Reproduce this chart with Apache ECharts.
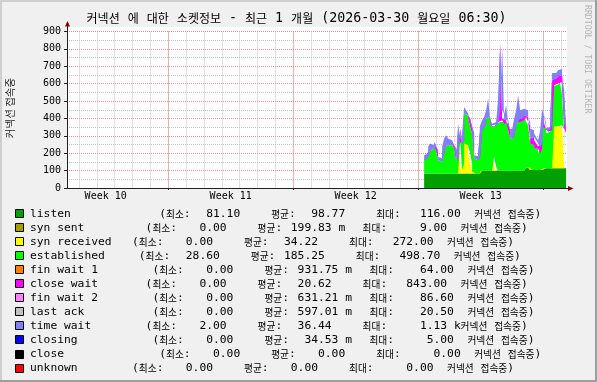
<!DOCTYPE html>
<html><head><meta charset="utf-8">
<script src="https://cdn.jsdelivr.net/npm/echarts@6/dist/echarts.min.js"></script>
<style>html,body{margin:0;padding:0;background:#F0F0F0}#c{width:597px;height:382px}</style>
</head><body><div id="c"></div>
<script>
// ---------------- data ----------------
const titleText = '커넥션 에 대한 소켓정보 - 최근 1 개월 (2026-03-30 월요일 06:30)';
const yAxisTitle = '커넥션 접속중';
const sideText = 'RRDTOOL / TOBI OETIKER';
const weekLabels = ['Week 10', 'Week 11', 'Week 12', 'Week 13'];
const yMin = 0, yMax = 900, yStep = 100;
// time axis: days from left edge of the 1-month window
const spanDays = 28;
const sampleStartDay = 20;      // first sample
const sampleStepDay = 0.112;    // sample spacing

const listen = [84,84,84,84,84,84,84,84,84,84,84,84,84,84,84,84,84,84,84,84,84,84,84,84,84,84,84,84,
  99,99,99,99,99,99,99,99,99,99,99,99,99,99,99,99,99,99,99,99,99,99,
  116,116,116,103,103,103,103,103,103,103,113,113,113,113,113,113,113,113,113,113,113];
const synReceived = [0,0,0,0,0,0,0,0,0,0,0,0,0,0,0,0,0,191,19,57,172,162,115,57,10,0,0,0,
  0,0,0,0,0,0,80,23,0,0,0,0,0,0,0,0,0,0,0,0,0,0,
  0,0,0,0,0,0,0,0,0,0,0,0,0,0,239,239,243,243,248,220,0];
const established = [80,96,124,134,143,153,130,76,67,115,153,162,172,162,162,143,67,67,153,134,172,172,201,210,220,86,76,96,
  233,252,271,300,310,262,172,239,271,281,290,281,271,271,233,185,195,262,281,290,281,290,
  292,264,245,153,143,124,124,96,124,248,229,201,210,220,233,239,241,245,248,191,201];
const closeWait = [0,0,0,0,0,0,0,0,0,0,0,0,0,0,0,0,0,0,0,0,0,0,0,0,0,0,0,0,
  0,0,0,0,0,0,0,0,0,67,430,19,19,23,0,0,0,0,0,15,19,15,
  10,29,19,29,48,48,29,38,29,67,29,19,10,38,38,38,38,42,38,38,29];
const timeWait = [25,19,29,38,19,29,32,19,19,38,48,57,29,29,29,19,19,29,19,38,38,29,29,29,19,19,23,19,
  29,38,38,48,105,29,19,19,10,67,13,48,38,82,29,57,57,38,67,128,48,52,
  48,38,29,57,38,38,38,38,76,38,38,10,19,57,38,32,32,34,38,29,29];

const legendNames = ['listen','syn sent','syn received','established','fin wait 1','close wait',
  'fin wait 2','last ack','time wait','closing','close','unknown'];
const legendMin = ['81.10','0.00','0.00','28.60','0.00','0.00','0.00','0.00','2.00','0.00','0.00','0.00'];
const legendAvg = ['98.77','199.83','34.22','185.25','931.75','20.62','631.21','597.01','36.44','34.53','0.00','0.00'];
const legendAvgUnit = ['','m','','','m','','m','m','','m','',''];
const legendMax = ['116.00','9.00','272.00','498.70','64.00','843.00','86.60','20.50','1.13','5.00','0.00','0.00'];
const legendMaxUnit = ['','','','','','','','','k','','',''];
const minLabel = '(최소:', avgLabel = '평균:', maxLabel = '최대:', tailLabel = '커넥션 접속중)';

// ---------------- style / layout ----------------
const colors = ['#00A000','#A0A000','#FFFF00','#00FF00','#FF8000','#FF00FF',
  '#FF80FF','#C0C0C0','#8080FF','#0000FF','#000000','#FF0000'];
const legendPad = [19,17,15,16,18,17,18,18,17,18,19,15];
const MONO = 'DejaVu Sans Mono';
const CJK = 'Noto Sans CJK KR';
const GL = 67, GR = 567, GT = 31.5, GB = 188;
const DAY_MS = 86400000;
const hourCount = spanDays * 24;
const hourCats = Array.from({length: hourCount + 1}, (_, i) => String(i));
const firstMidnight = 16, firstWeek = 136, weekLabelFirst = 52;

function richStr(str) {
  const parts = str.match(/[\uAC00-\uD7A3]+|[^\uAC00-\uD7A3]+/g) || [];
  return parts.map(p => (/[\uAC00-\uD7A3]/.test(p) ? '{k|' : '{m|') + p + '}').join('');
}
function richStyles(ms, ks, col) {
  return {
    m: {fontFamily: MONO, fontSize: ms, fill: col, color: col},
    k: {fontFamily: CJK, fontSize: ks, fill: col, color: col}
  };
}
function txt(x, y, text, opts) {
  opts = opts || {};
  const align = opts.align || 'left';
  const style = {
    text: opts.rich ? richStr(text) : text,
    align: align, textAlign: align,
    verticalAlign: 'middle', textVerticalAlign: 'middle',
    fill: opts.color || '#000'
  };
  if (opts.rich) style.rich = richStyles(opts.ms || 11.3, opts.ks || 9.7, opts.color || '#000');
  else style.font = (opts.size || 11.3) + 'px "' + (opts.family || MONO) + '"';
  const el = {type: 'text', x: x, y: y, style: style, z: 10};
  if (opts.rotation) el.rotation = opts.rotation;
  return el;
}

const graphics = [];
graphics.push({type: 'rect', shape: {x: 0, y: 0, width: 597, height: 382}, style: {fill: '#F0F0F0'}, z: -20});
graphics.push({type: 'rect', shape: {x: 0, y: 0, width: 597, height: 2}, style: {fill: '#CFCFCF'}, z: -19});
graphics.push({type: 'rect', shape: {x: 0, y: 0, width: 2, height: 382}, style: {fill: '#CFCFCF'}, z: -19});
graphics.push({type: 'rect', shape: {x: 0, y: 380, width: 597, height: 2}, style: {fill: '#9E9E9E'}, z: -19});
graphics.push({type: 'rect', shape: {x: 595, y: 0, width: 2, height: 382}, style: {fill: '#9E9E9E'}, z: -19});
graphics.push({type: 'rect', shape: {x: GL, y: 27, width: GR - GL, height: GB - 27}, style: {fill: '#FFFFFF'}, z: -18});
graphics.push({type: 'line', shape: {x1: GL + 0.5, y1: GT, x2: GL + 0.5, y2: 26}, style: {stroke: '#202020', lineWidth: 1}, z: 5});
graphics.push({type: 'polygon', shape: {points: [[GL - 2, 26.5], [GL + 3, 26.5], [GL + 0.5, 21]]}, style: {fill: '#7F0000'}, z: 5});
graphics.push({type: 'line', shape: {x1: GR, y1: GB + 0.5, x2: 568.5, y2: GB + 0.5}, style: {stroke: '#202020', lineWidth: 1}, z: 5});
graphics.push({type: 'polygon', shape: {points: [[568, GB - 2], [568, GB + 3], [573.5, GB + 0.5]]}, style: {fill: '#7F0000'}, z: 5});
graphics.push(txt(296.5, 18.5, titleText, {rich: true, ms: 13.3, ks: 12.0, align: 'center'}));
graphics.push(txt(10, 108, yAxisTitle, {family: CJK, size: 10.5, align: 'center', rotation: Math.PI / 2, color: '#222'}));
graphics.push(txt(587, 5, sideText, {size: 8.2, color: '#B4B4B4', rotation: -Math.PI / 2}));
const MW = 6.8;
legendNames.forEach((name, i) => {
  const y = 214 + i * 14.05;
  const x0 = 30 + legendPad[i] * MW;
  graphics.push({type: 'rect', shape: {x: 15.5, y: Math.round(y) - 4.5, width: 8, height: 8},
    style: {fill: colors[i], stroke: '#000', lineWidth: 1}, z: 10});
  graphics.push(txt(30, y, name));
  graphics.push(txt(x0, y, minLabel, {rich: true}));
  graphics.push(txt(x0 + 81, y, legendMin[i], {align: 'right'}));
  graphics.push(txt(x0 + 112, y, avgLabel, {rich: true}));
  graphics.push(txt(x0 + 186, y, legendAvg[i], {align: 'right'}));
  if (legendAvgUnit[i]) graphics.push(txt(x0 + 192.8, y, legendAvgUnit[i]));
  graphics.push(txt(x0 + 217, y, maxLabel, {rich: true}));
  graphics.push(txt(x0 + 301.5, y, legendMax[i], {align: 'right'}));
  if (legendMaxUnit[i]) graphics.push(txt(x0 + 308.3, y, legendMaxUnit[i]));
  graphics.push(txt(x0 + 315, y, tailLabel, {rich: true}));
});

function toPoints(arr) {
  const pts = arr.map((v, i) => [(sampleStartDay + i * sampleStepDay) * DAY_MS, v]);
  pts.push([(sampleStartDay + arr.length * sampleStepDay) * DAY_MS, arr[arr.length - 1]]);
  return pts;
}
const stackDefs = [
  {name: 'listen', data: listen, color: colors[0]},
  {name: 'syn received', data: synReceived, color: colors[2]},
  {name: 'established', data: established, color: colors[3]},
  {name: 'close wait', data: closeWait, color: colors[5]},
  {name: 'time wait', data: timeWait, color: colors[8]}
];
const series = stackDefs.map(d => ({
  name: d.name, type: 'line', xAxisIndex: 0, yAxisIndex: 0,
  stack: 'tcp', step: 'end', symbol: 'none', showSymbol: false,
  lineStyle: {width: 0, opacity: 0}, areaStyle: {color: d.color, opacity: 1},
  itemStyle: {color: d.color}, data: toPoints(d.data), animation: false, silent: true
}));

const gridLineGray = '#C4C4C4';
const gridLineRed = 'rgba(235,70,70,0.6)';
const option = {
  animation: false,
  graphic: {elements: graphics},
  grid: {left: GL, right: 597 - GR, top: GT, bottom: 382 - GB, containLabel: false},
  xAxis: [
    {type: 'time', min: 0, max: spanDays * DAY_MS, show: false},
    {type: 'category', data: hourCats, boundaryGap: false, position: 'bottom',
      axisLine: {show: false}, axisTick: {show: false}, axisLabel: {show: false},
      splitLine: {show: true, interval: (i) => (i - firstMidnight) % 24 === 0,
        lineStyle: {color: gridLineGray, width: 1, type: [1, 1]}}},
    {type: 'category', data: hourCats, boundaryGap: false, position: 'bottom',
      axisLine: {show: true, lineStyle: {color: '#202020', width: 1}},
      axisTick: {show: true, length: 2, interval: (i) => (i - firstWeek) % 168 === 0, lineStyle: {color: '#202020'}},
      axisLabel: {show: true, margin: 3, interval: (i) => (i - weekLabelFirst) % 168 === 0 && i >= weekLabelFirst,
        formatter: (v, i) => weekLabels[Math.round((i - weekLabelFirst) / 168)] || '',
        fontFamily: MONO, fontSize: 10, color: '#000'},
      splitLine: {show: true, interval: (i) => (i - firstWeek) % 168 === 0 && i >= firstWeek,
        lineStyle: {color: gridLineRed, width: 1, type: [1, 1]}}}
  ],
  yAxis: {type: 'value', min: yMin, max: yMax, interval: yStep,
    axisLine: {show: true, lineStyle: {color: '#202020', width: 1}},
    axisTick: {show: true, length: 3, lineStyle: {color: '#202020'}},
    axisLabel: {fontFamily: MONO, fontSize: 10, color: '#000', margin: 6},
    splitLine: {show: true, lineStyle: {color: gridLineRed, width: 1, type: [1, 1]}},
    minorTick: {show: false, splitNumber: 2},
    minorSplitLine: {show: true, lineStyle: {color: gridLineGray, width: 1, type: [1, 1]}}
  },
  series: series
};
const chart = echarts.init(document.getElementById('c'), null, {renderer: 'canvas'});
chart.setOption(option);
</script></body></html>
